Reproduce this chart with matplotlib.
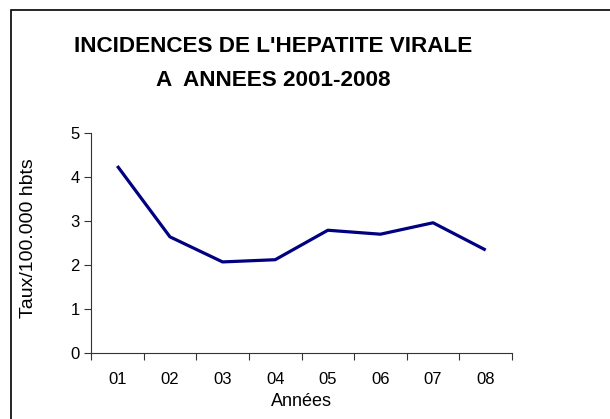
import matplotlib.pyplot as plt
from matplotlib.patches import Rectangle

# Données
annees = ['01', '02', '03', '04', '05', '06', '07', '08']
taux = [4.25, 2.64, 2.07, 2.12, 2.79, 2.70, 2.96, 2.34]

plt.rcParams['font.family'] = ['Liberation Sans', 'DejaVu Sans']

W, H = 610, 419
fig = plt.figure(figsize=(W / 100, H / 100), dpi=100)
ax = fig.add_axes([91 / W, 1 - 353 / H, (512 - 91) / W, (353 - 133) / H])

# Cadre (gauche et haut seulement visibles)
fig.patches.append(Rectangle((11 / W, -0.1), 1.2, 1 - 10 / H + 0.1,
                             transform=fig.transFigure, fill=False,
                             edgecolor='black', linewidth=1.2))

x = list(range(len(annees)))
ax.plot(x, taux, color='#000080', linewidth=2.3, solid_capstyle='butt')

ax.set_xlim(-0.5, len(annees) - 0.5)
ax.set_ylim(0, 5)
ax.set_yticks(range(6))
ax.set_xticks([i - 0.5 for i in range(len(annees) + 1)])
ax.set_xticklabels([])
ax.set_xticks(x, minor=True)
ax.set_xticklabels(annees, minor=True)
ax.tick_params(axis='x', which='major', direction='out', length=5, width=0.8, color='#333333')
ax.tick_params(axis='x', which='minor', length=0, pad=14, labelsize=12)
ax.tick_params(axis='y', direction='out', length=5, width=0.8, labelsize=12, pad=3, color='#333333')

for s in ['top', 'right']:
    ax.spines[s].set_visible(False)
for s in ['left', 'bottom']:
    ax.spines[s].set_linewidth(0.8)
    ax.spines[s].set_color('#333333')

ax.set_xlabel('Années', fontsize=13, labelpad=4)

fig.text(29 / W, 1 - 238 / H, 'Taux/100.000 hbts', rotation=90, ha='center', va='center',
         fontsize=14)

fig.text(273 / W, 1 - 47 / H, "INCIDENCES DE L'HEPATITE VIRALE", ha='center', va='center',
         fontsize=16.2, fontweight='bold')
fig.text(273 / W, 1 - 80 / H, "A  ANNEES 2001-2008", ha='center', va='center',
         fontsize=16.2, fontweight='bold')

fig.savefig('out.png', dpi=100)
